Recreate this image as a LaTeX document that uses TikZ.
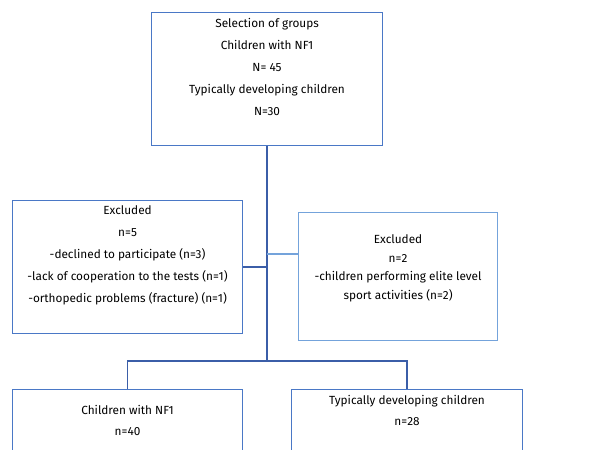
\documentclass[tikz,border=0pt]{standalone}
\usepackage{fontspec}
\setmainfont{Fira Sans}
\usetikzlibrary{positioning}
\definecolor{boxblue}{HTML}{4A78C6}
\definecolor{paleblue}{HTML}{74A3DB}
\definecolor{lineblue}{HTML}{3B5EA8}
\tikzset{
  box/.style={rectangle, draw=boxblue, line width=1.1pt, anchor=north west,
    inner sep=3pt, font=\fontsize{11.8}{22}\selectfont},
  palebox/.style={box, draw=paleblue},
  link/.style={draw=lineblue, line width=1.4pt},
  palelink/.style={draw=paleblue, line width=1.1pt},
}
% fixed size text block: width, height, lines
\newcommand{\boxtext}[3]{\parbox[t][#2][t]{#1}{\centering\vspace*{2.5pt} #3}}

\begin{document}
\begin{tikzpicture}[x=1pt, y=-1pt]
  \useasboundingbox (0,0) rectangle (601,449);
  \clip (0,0) rectangle (601,449);

  \node[box] (select) at (151,12) {\boxtext{225pt}{127pt}{Selection of groups\\
    Children with NF1\\ N= 45\\ Typically developing children\\ N=30}};
  \node[box] (exclnf) at (12,200) {\boxtext{224pt}{127pt}{Excluded\\ n=5\\
    -declined to participate (n=3)\\ -lack of cooperation to the tests (n=1)\\
    -orthopedic problems (fracture) (n=1)}};
  \node[palebox, font=\fontsize{11.8}{18.5}\selectfont] (excltd) at (298,212)
    {\boxtext{193pt}{122pt}{\vspace*{17pt}Excluded\\ n=2\\
    -children performing elite level\\ sport activities (n=2)}};
  \node[box, font=\fontsize{11.8}{21}\selectfont] (nf) at (12,389)
    {\boxtext{224pt}{80pt}{\vspace*{10pt}Children with NF1\\ n=40}};
  \node[box, font=\fontsize{11.8}{21}\selectfont] (td) at (291,389)
    {\boxtext{225pt}{80pt}{Typically developing children\\ n=28}};

  \coordinate (split) at (select.south |- 0,361);
  \coordinate (tdjoin) at (select.south |- 0,254);

  \path[link] (select.south) -- (split);
  \path[link] (exclnf.east) -- (select.south |- exclnf.east);
  \path[palelink] (tdjoin) -- (excltd.west |- tdjoin);
  \path[link] (split) -| (nf.north);
  \path[link] (split) -| (td.north);
\end{tikzpicture}
\end{document}
